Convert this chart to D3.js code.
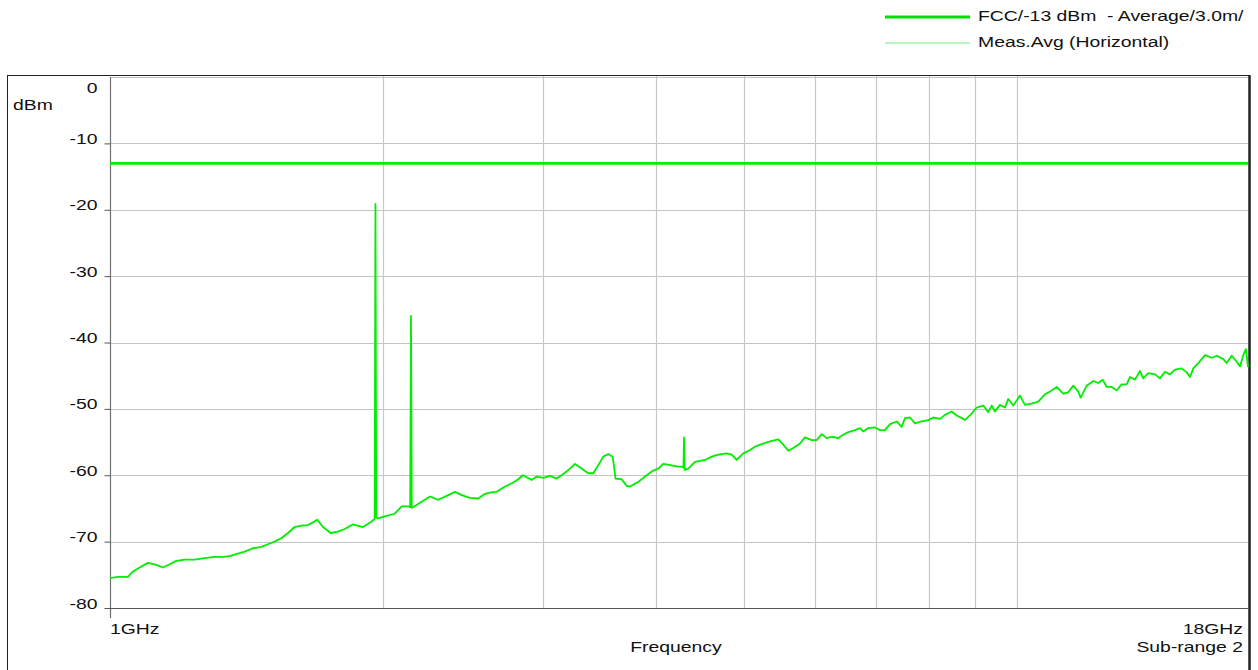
<!DOCTYPE html>
<html>
<head>
<meta charset="utf-8">
<script src="https://cdn.jsdelivr.net/npm/d3@7"></script>
<style>
  body { margin: 0; background: #fff; }
  text { font-family: "Liberation Sans", Arial, sans-serif; font-size: 15.5px; fill: #111; white-space: pre; }
</style>
</head>
<body>
<script>
// measured trace, Meas.Avg (Horizontal)
var freqGHz = [
  1.000, 1.0205, 1.0467, 1.0602, 1.0783, 1.1012, 1.1249, 1.1442, 1.1637, 1.1836,
  1.2089, 1.2399, 1.2718, 1.3045, 1.3323, 1.3552, 1.3781, 1.4078, 1.4377, 1.4684,
  1.4936, 1.5192, 1.5449, 1.5715, 1.5985, 1.6255, 1.6534, 1.6746, 1.6930, 1.7177,
  1.7517, 1.7843, 1.8149, 1.8536, 1.9012, 1.9417, 1.9585, 1.9625, 1.9665, 1.9751,
  2.0091, 2.0607, 2.0976, 2.1331, 2.1434, 2.1478, 2.1522, 2.1604, 2.2071, 2.2540,
  2.3020, 2.3517, 2.4018, 2.4430, 2.4951, 2.5483, 2.5920, 2.6252, 2.6703, 2.7272,
  2.7853, 2.8209, 2.8526, 2.8817, 2.9185, 2.9558, 3.0058, 3.0574, 3.1097, 3.1622,
  3.2165, 3.2576, 3.3135, 3.3696, 3.4127, 3.4563, 3.5004, 3.5451, 3.5849, 3.6014,
  3.6105, 3.6678, 3.7147, 3.7459, 3.8257, 3.9083, 3.9743, 4.0251, 4.0765, 4.1644,
  4.2349, 4.2716, 4.2913, 4.2967, 4.3034, 4.3438, 4.4184, 4.5322, 4.6100, 4.6880,
  4.7891, 4.8503, 4.9123, 4.9955, 5.0812, 5.1462, 5.2345, 5.3460, 5.4600, 5.5297,
  5.6003, 5.6718, 5.7692, 5.8429, 5.9432, 6.0191, 6.0960, 6.1738, 6.2527, 6.3584,
  6.4396, 6.5219, 6.6338, 6.7185, 6.7750, 6.8615, 6.9792, 7.0684, 7.1588, 7.2502,
  7.3747, 7.4689, 7.5317, 7.6279, 7.7253, 7.8578, 7.9907, 8.0929, 8.2318, 8.3370,
  8.4800, 8.5884, 8.7337, 8.7715, 8.9220, 9.0359, 9.1886, 9.3059, 9.3866, 9.4656,
  9.5864, 9.7090, 9.7907, 9.9161, 10.086, 10.215, 10.390, 10.566, 10.747, 10.885,
  11.071, 11.259, 11.403, 11.549, 11.697, 11.768, 11.949, 12.151, 12.306, 12.444,
  12.571, 12.731, 12.894, 13.059, 13.226, 13.337, 13.508, 13.681, 13.796, 13.973,
  14.213, 14.394, 14.579, 14.765, 14.953, 15.210, 15.405, 15.535, 15.666, 15.866,
  16.138, 16.415, 16.625, 16.906, 17.053, 17.271, 17.492, 17.639, 17.787, 17.910,
  18.000
];
var measDbm = [
  -75.5, -75.3, -75.3, -74.5, -73.9, -73.2, -73.5, -73.9, -73.4, -72.9,
  -72.7, -72.7, -72.5, -72.3, -72.3, -72.2, -71.9, -71.5, -71.0, -70.8,
  -70.4, -70.0, -69.5, -68.7, -67.8, -67.6, -67.5, -67.1, -66.7, -67.8,
  -68.7, -68.5, -68.1, -67.4, -67.8, -67.0, -66.6, -19.1, -66.4, -66.5,
  -66.2, -65.8, -64.7, -64.7, -64.8, -36.0, -64.9, -64.8, -64.0, -63.2,
  -63.7, -63.1, -62.5, -63.0, -63.4, -63.5, -62.8, -62.6, -62.5, -61.7,
  -61.1, -60.6, -60.0, -60.3, -60.7, -60.2, -60.4, -60.1, -60.5, -59.8,
  -59.0, -58.3, -59.0, -59.7, -59.7, -58.5, -57.2, -56.8, -57.2, -59.2,
  -60.5, -60.6, -61.6, -61.7, -61.0, -60.0, -59.3, -59.0, -58.3, -58.5,
  -58.7, -58.7, -58.8, -54.3, -59.2, -59.0, -58.0, -57.7, -57.2, -56.9,
  -56.7, -56.9, -57.7, -56.7, -56.2, -55.7, -55.3, -54.9, -54.6, -55.4,
  -56.3, -55.9, -55.2, -54.3, -54.7, -54.7, -53.8, -54.4, -54.2, -54.4,
  -53.9, -53.5, -53.2, -52.9, -53.4, -52.9, -52.8, -53.2, -53.2, -52.3,
  -51.9, -52.7, -51.4, -51.3, -52.2, -51.9, -51.7, -51.3, -51.5, -50.9,
  -50.4, -51.0, -51.5, -51.7, -50.7, -49.8, -49.5, -50.5, -49.5, -50.4,
  -49.4, -49.8, -48.5, -49.5, -48.0, -49.4, -49.2, -48.9, -47.8, -47.4,
  -46.7, -47.7, -47.5, -46.5, -47.4, -48.3, -46.5, -45.8, -46.1, -45.6,
  -46.7, -46.7, -47.2, -46.3, -46.3, -45.2, -45.6, -44.3, -45.4, -44.6,
  -44.8, -45.4, -44.4, -44.8, -44.1, -43.9, -44.5, -45.2, -43.9, -43.1,
  -41.9, -42.3, -42.0, -42.5, -43.1, -42.0, -42.9, -43.6, -41.9, -41.0,
  -43.7
];

// FCC/-13 dBm - Average/3.0m/ limit
var limitFreqGHz = [1, 18];
var limitDbm = [-13, -13];

var yTicks = [0, -10, -20, -30, -40, -50, -60, -70, -80];
var xGridGHz = [2, 3, 4, 5, 6, 7, 8, 9, 10];
var legendLabels = ["FCC/-13 dBm  - Average/3.0m/", "Meas.Avg (Horizontal)"];

var width = 1258, height = 670;
var plotLeft = 110, plotRight = 1248, plotTop = 77, plotBottom = 608;
var stretch = 1.25;   // the chart's font is wider than Arial

var svg = d3.select("body").append("svg")
    .attr("width", width)
    .attr("height", height);

var x = d3.scaleLog().domain([1, 18]).range([plotLeft, plotRight]);
var y = d3.scaleLinear().domain([-80, 0]).range([plotBottom, plotTop]);

function addText(px, py, str, anchor) {
  return svg.append("text")
      .attr("transform", "translate(" + px + "," + py + ") scale(" + stretch + ",1)")
      .attr("text-anchor", anchor || "start")
      .text(str);
}

// outer frame
svg.append("rect")
    .attr("x", 7.5).attr("y", 75.5)
    .attr("width", 1242).attr("height", 620)
    .attr("fill", "none")
    .attr("stroke", "#222")
    .attr("stroke-width", 1);
svg.append("line")
    .attr("x1", 1249.5).attr("x2", 1249.5)
    .attr("y1", 75).attr("y2", height)
    .attr("stroke", "#222").attr("stroke-width", 2.5);

// grid
svg.append("g").selectAll("line")
    .data(yTicks.filter(function(d){ return d > -80 }))
    .enter().append("line")
    .attr("x1", plotLeft).attr("x2", plotRight)
    .attr("y1", function(d){ return Math.round(y(d)) + 0.5 })
    .attr("y2", function(d){ return Math.round(y(d)) + 0.5 })
    .attr("stroke", "#c4c4c4").attr("stroke-width", 1);

svg.append("g").selectAll("line")
    .data(xGridGHz)
    .enter().append("line")
    .attr("x1", function(d){ return Math.round(x(d)) + 0.5 })
    .attr("x2", function(d){ return Math.round(x(d)) + 0.5 })
    .attr("y1", 76).attr("y2", plotBottom)
    .attr("stroke", "#c8c8c8").attr("stroke-width", 1.2);

// y axis ticks
var yAxis = d3.axisLeft(y)
    .tickValues(yTicks)
    .tickSize(6)
    .tickFormat(function(d){ return String(d) });

var yg = svg.append("g")
    .attr("transform", "translate(" + (plotLeft + 0.5) + ",0)")
    .call(yAxis);
yg.select(".domain").remove();
yg.selectAll(".tick line").attr("stroke", "#555");
yg.selectAll(".tick text")
    .attr("font-size", null)
    .attr("font-family", null)
    .attr("fill", "#111")
    .attr("x", 0)
    .attr("dy", null)
    .attr("transform", function(d){
      return "translate(-13," + (d === 0 ? 15 : 0) + ") scale(" + stretch + ",1)";
    });
yg.selectAll(".tick").filter(function(d){ return d === 0 }).select("line").remove();

svg.append("line")
    .attr("x1", plotLeft + 0.5).attr("x2", plotLeft + 0.5)
    .attr("y1", plotTop).attr("y2", plotBottom + 10)
    .attr("stroke", "#707070").attr("stroke-width", 1.2);
svg.append("line")
    .attr("x1", plotLeft).attr("x2", plotRight + 1)
    .attr("y1", plotBottom + 0.5).attr("y2", plotBottom + 0.5)
    .attr("stroke", "#555").attr("stroke-width", 1.2);

// limit line
var line = d3.line()
    .x(function(d){ return x(d[0]) })
    .y(function(d){ return y(d[1]) });

svg.append("path")
    .datum(d3.zip(limitFreqGHz, limitDbm))
    .attr("d", line)
    .attr("fill", "none")
    .attr("stroke", "#00f000")
    .attr("stroke-width", 2.8);

// measurement trace
svg.append("path")
    .datum(d3.zip(freqGHz, measDbm))
    .attr("d", line)
    .attr("fill", "none")
    .attr("stroke", "#00ee00")
    .attr("stroke-width", 1.8)
    .attr("stroke-linejoin", "round");

// labels
addText(13, 110, "dBm");
addText(x(1), 634, "1GHz");
addText(1243, 634, "18GHz", "end");
addText(1243, 652, "Sub-range 2", "end");
addText(676, 652, "Frequency", "middle");

// legend
var legendStyles = [
  {stroke: "#00e000", w: 3},
  {stroke: "#77ee77", w: 1.2}
];
legendLabels.forEach(function(d, i) {
  svg.append("line")
      .attr("x1", 885).attr("x2", 970)
      .attr("y1", 17 + i * 26).attr("y2", 17 + i * 26)
      .attr("stroke", legendStyles[i].stroke)
      .attr("stroke-width", legendStyles[i].w);
  addText(978, 21 + i * 26, d);
});
</script>
</body>
</html>
